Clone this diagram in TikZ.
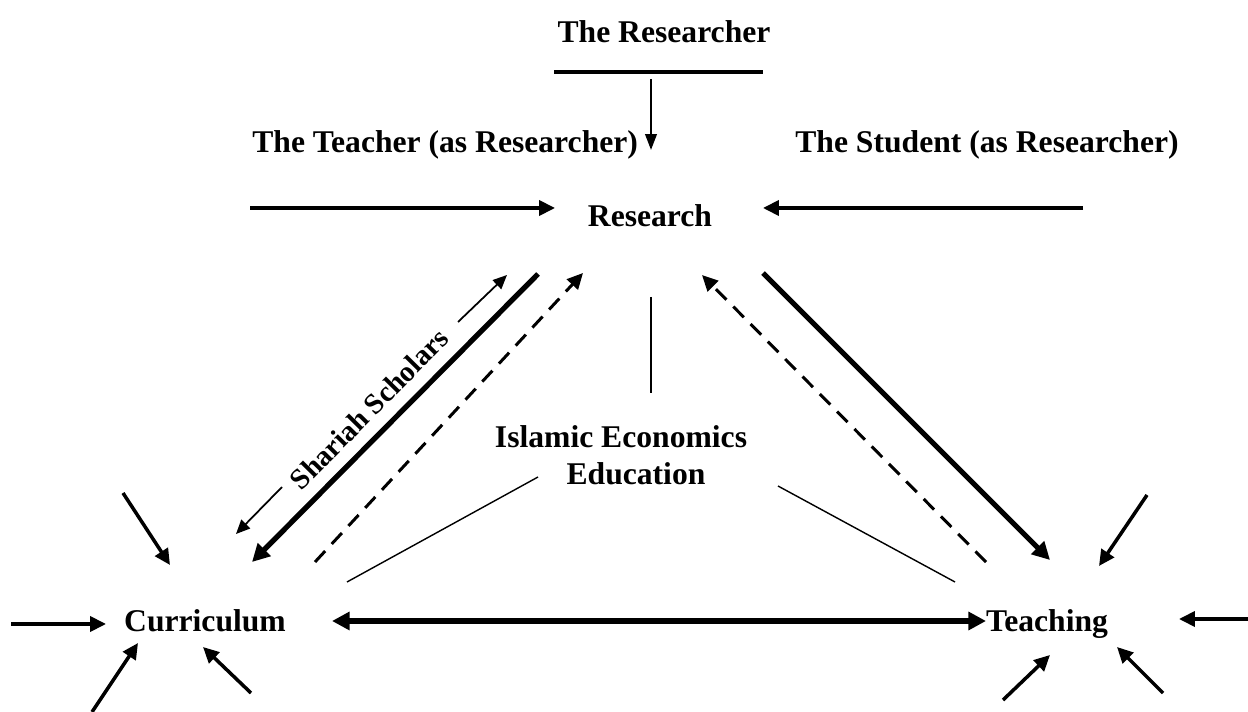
\documentclass[tikz,border=0pt]{standalone}
\usepackage{fontspec}
\setmainfont{Liberation Serif}
\usetikzlibrary{arrows.meta}
\usetikzlibrary{calc}

\tikzset{
  lbl/.style={font=\fontsize{18}{21.5}\selectfont\bfseries, inner sep=0pt},
  arr/.style={line width=2pt, -{Triangle[length=9pt,width=8.5pt]}},
  slimarr/.style={line width=1pt, -{Triangle[length=8pt,width=7pt]}},
  heavy/.style={line width=3pt},
  dashy/.style={line width=1.7pt, dash pattern=on 8.5pt off 5.5pt},
  link/.style={line width=0.8pt},
}

\begin{document}
\begin{tikzpicture}[x=0.02cm,y=-0.02cm]
      \useasboundingbox (0,0) rectangle (1248,712);

      \node[lbl,anchor=base] (researcher) at (664,43) {The Researcher};
      \node[lbl,anchor=base west] (teacher) at (252,153) {The Teacher (as Researcher)};
      \node[lbl,anchor=base west] (student) at (795,153) {The Student (as Researcher)};
      \node[lbl,anchor=base] (research) at (650,227) {Research};
      \node[lbl,anchor=base,align=center] (iee) at (621,485) {Islamic Economics\\\hspace*{0.6cm}Education};
      \node[lbl,anchor=base] (curr) at (205,632) {Curriculum};
      \node[lbl,anchor=base] (teach) at (1047,632) {Teaching};
      \node[lbl,font=\fontsize{16.5}{20}\selectfont\bfseries,rotate=45.5] (sharia) at (369,409) {Shariah Scholars};

      % top: researcher rule and the three inputs to research
      \coordinate (rule-w) at (554,72);
      \coordinate (rule-e) at (763,72);
      \coordinate (rule-s) at (651,79);
      \coordinate (down-tip) at (651,150);
      \coordinate (teacher-out) at (250,208);
      \coordinate (research-w) at (555,208);
      \coordinate (student-out) at (1083,208);
      \coordinate (research-e) at (763,208);

      \draw[line width=1.8pt] (rule-w) -- (rule-e);
      \draw[line width=1.3pt,-{Triangle[length=9pt,width=6.5pt]}] (rule-s) -- (down-tip);
      \draw[arr] (teacher-out) -- (research-w);
      \draw[arr] (student-out) -- (research-e);

      % research -- curriculum
      \coordinate (rc-top) at (538,274);
      \coordinate (rc-bot) at (252,562);
      \coordinate (cr-bot) at (315,562);
      \coordinate (cr-top) at (583,273);
      \draw[heavy,-{Triangle[length=10pt,width=10pt]}] (rc-top) -- (rc-bot);
      \draw[dashy,-{Triangle[length=9pt,width=8.5pt]}] (cr-bot) -- (cr-top);
      \coordinate (sh-up-s) at (458,322);
      \coordinate (sh-up-t) at (507,275);
      \coordinate (sh-dn-s) at (282,487);
      \coordinate (sh-dn-t) at (236,534);
      \draw[slimarr] (sh-up-s) -- (sh-up-t);
      \draw[slimarr] (sh-dn-s) -- (sh-dn-t);

      % research -- teaching
      \coordinate (rt-top) at (763,273);
      \coordinate (rt-bot) at (1050,560);
      \coordinate (tr-bot) at (986,562);
      \coordinate (tr-top) at (702,275);
      \draw[heavy,-{Triangle[length=10pt,width=10pt]}] (rt-top) -- (rt-bot);
      \draw[dashy,-{Triangle[length=9pt,width=8.5pt]}] (tr-bot) -- (tr-top);

      % links to the centre
      \coordinate (iee-n1) at (651,297);
      \coordinate (iee-n2) at (651,393);
      \coordinate (iee-sw) at (538,477);
      \coordinate (curr-ne) at (347,582);
      \coordinate (iee-se) at (778,486);
      \coordinate (teach-nw) at (955,582);
      \draw[link] (iee-n1) -- (iee-n2);
      \draw[link] (iee-sw) -- (curr-ne);
      \draw[link] (iee-se) -- (teach-nw);

      % curriculum -- teaching
      \coordinate (ct-w) at (332,621);
      \coordinate (ct-e) at (986,621);
      \draw[heavy,{Triangle[length=10pt,width=10pt]}-{Triangle[length=10pt,width=10pt]}] (ct-w) -- (ct-e);

      % outside inputs to curriculum
      \coordinate (c-in1) at (11,624);   \coordinate (c-to1) at (106,624);
      \coordinate (c-in2) at (123,493);  \coordinate (c-to2) at (170,565);
      \coordinate (c-in3) at (92,712);   \coordinate (c-to3) at (138,643);
      \coordinate (c-in4) at (251,693);  \coordinate (c-to4) at (203,647);
      % outside inputs to teaching
      \coordinate (t-in1) at (1147,495); \coordinate (t-to1) at (1099,566);
      \coordinate (t-in2) at (1248,619); \coordinate (t-to2) at (1179,619);
      \coordinate (t-in3) at (1003,700); \coordinate (t-to3) at (1050,655);
      \coordinate (t-in4) at (1163,693); \coordinate (t-to4) at (1117,647);
      \foreach \i in {1,...,4} {
        \draw[arr] (c-in\i) -- (c-to\i);
        \draw[arr] (t-in\i) -- (t-to\i);
      }
\end{tikzpicture}
\end{document}
